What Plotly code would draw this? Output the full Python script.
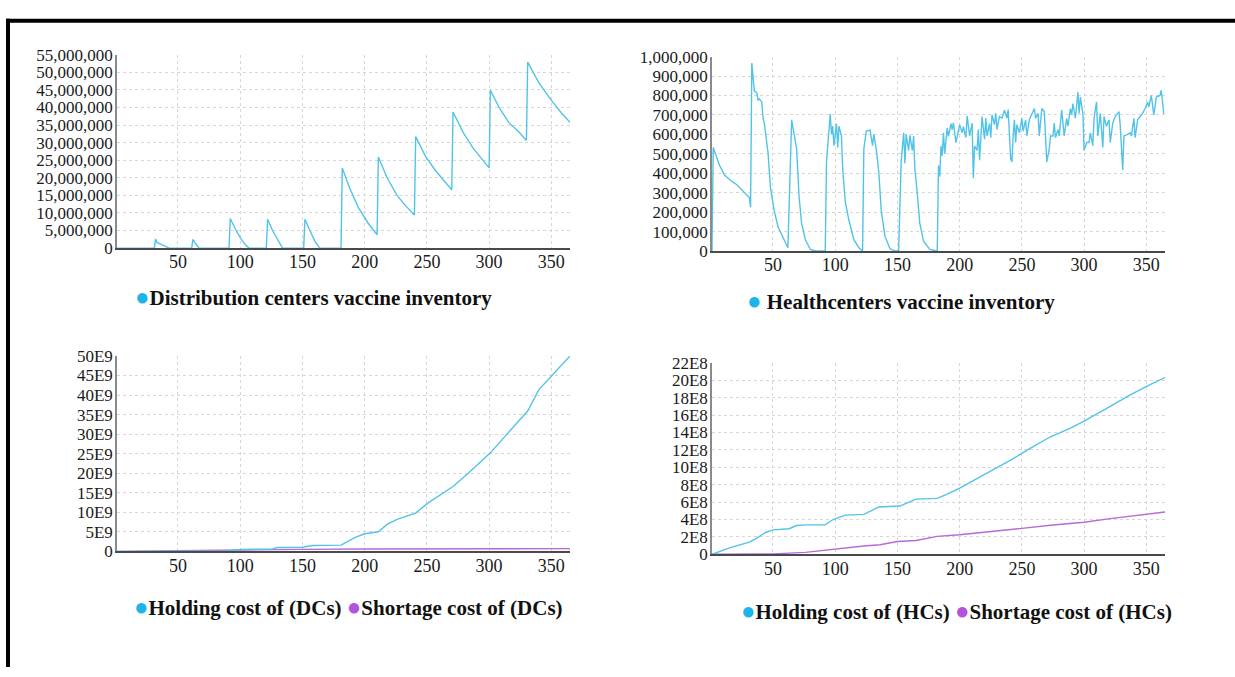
import plotly.graph_objects as go

W, H = 1235, 677

# ---------------- data ----------------
days_ticks = [50, 100, 150, 200, 250, 300, 350]

# Distribution centers vaccine inventory (units)
dc_day = [1, 31, 32, 33, 36, 40, 43, 61, 62, 64, 66, 67, 91, 92, 96, 100, 104, 107,
          121, 122, 126, 130, 134, 151, 152, 156, 160, 164, 181, 182, 188, 195, 203,
          210, 211, 218, 226, 233, 240, 241, 249, 257, 264, 270, 271, 279, 287, 294,
          300, 301, 308, 316, 324, 330, 331, 340, 350, 358, 365]
dc_inv_m = [0, 0, 2.6, 1.6, 1.1, 0.4, 0, 0, 2.5, 1.3, 0.4, 0, 0, 8.4, 5.5, 3.0, 1.0, 0,
            0, 8.2, 5.0, 2.3, 0, 0, 8.2, 5.0, 2.0, 0, 0, 22.8, 17.0, 11.5, 7.0,
            3.8, 25.9, 20.0, 15.0, 12.0, 9.4, 31.7, 26.0, 22.0, 19.0, 16.6, 38.7, 33.0, 28.5, 25.5,
            22.8, 44.9, 40.0, 35.6, 33.0, 30.6, 52.9, 47.0, 42.0, 38.5, 35.8]

# Healthcenters vaccine inventory (thousand units)
hc_day = [1, 2, 7, 11, 17, 21, 26, 31, 32, 33, 35, 37, 38, 39, 41, 42, 43, 46, 48, 51, 54, 58, 62,
          65, 66, 69, 71, 73, 76, 80, 84, 92, 93, 95, 96, 97, 98, 99, 101, 102, 103, 105, 106, 108,
          111, 115, 119, 122, 123, 125, 128, 130, 131, 133, 135, 137, 140, 144, 148, 151, 153, 155,
          156, 157, 159, 160, 162, 163, 164, 166, 168, 171, 176, 182,
          183, 184, 185, 186, 187, 188, 190, 191, 193, 194, 195, 197, 200, 202, 203, 205, 206, 208,
          210, 211, 212, 214, 215, 216, 217, 218, 220, 221, 222, 224, 225, 226, 228, 229, 230, 232,
          234, 236, 238, 239, 241, 242, 243, 244, 245, 246, 248, 250, 251, 253, 254, 256, 260, 261,
          263, 264, 266, 268, 270, 272, 273, 275, 276, 277, 279, 280, 282, 284, 286, 287, 289, 290,
          291, 293, 295, 296, 297, 299, 300, 302, 304, 305, 307, 308, 310, 311, 313, 315, 316, 318,
          320, 321, 323, 325, 328, 329, 331, 332, 335, 337, 338, 340, 341, 343, 345, 347, 349, 351,
          352, 354, 356, 358, 361, 362, 364]
hc_inv_k = [0, 533, 441, 391, 358, 341, 308, 275, 225, 967, 823, 815, 775, 783, 767, 683, 658, 508,
            325, 208, 125, 67, 17,
            675, 642, 525, 275, 142, 58, 8, 0, 0, 458, 658, 705, 600, 642, 542, 655, 533, 642, 592,
            425, 258,
            158, 58, 17, 0, 525, 617, 622, 542, 600, 525, 408, 208, 75, 12, 0, 0, 458, 608,
            450, 600, 517, 595, 517, 592, 425, 292, 142, 50, 8, 0,
            440, 383, 540, 490, 608, 500, 633, 590, 655, 625, 660, 558, 650, 608, 640, 583, 695, 592,
            658, 375, 540, 517, 625, 467, 608, 692, 575, 683, 592, 655, 583, 700, 650, 708, 625, 692,
            683, 725, 683, 728, 475, 458, 592, 675, 558, 650, 608, 683, 617, 675, 592, 675, 733, 683,
            708, 592, 733, 717, 458, 525, 592, 592, 658, 583, 625, 592, 725, 592, 683, 642, 733, 700,
            758, 683, 817, 708, 792, 708, 517, 558, 558, 608, 542, 683, 767, 592, 708, 533, 692, 642,
            675, 558, 658, 692, 717, 650, 417, 592, 600, 608, 592, 683, 583, 675, 692, 708, 733, 767,
            742, 800, 700, 792, 800, 827, 706]

# Costs of DCs (in units of 1E9)
dc_hold_day = [1, 90, 100, 126, 130, 150, 158, 181, 192, 200, 211, 218, 226, 241, 251, 261,
               271, 283, 301, 318, 331, 340, 353, 365]
dc_hold_e9 = [0, 0.1, 0.5, 0.6, 1.0, 1.05, 1.5, 1.6, 3.5, 4.5, 5.0, 6.9, 8.2, 9.8, 12.4, 14.5,
              16.6, 19.9, 25.2, 31.3, 35.9, 41.4, 46.0, 50.0]
dc_short_day = [1, 30, 60, 100, 150, 200, 365]
dc_short_e9 = [0, 0.05, 0.15, 0.35, 0.5, 0.6, 0.7]

# Costs of HCs (in units of 1E8)
hc_hold_day = [1, 15, 31, 36, 44, 50, 63, 69, 76, 92, 98, 108, 123, 135, 152, 165, 182, 190,
               200, 210, 226, 242, 257, 273, 289, 300, 321, 337, 353, 365]
hc_hold_e8 = [0, 0.73, 1.4, 1.76, 2.5, 2.8, 2.93, 3.3, 3.37, 3.37, 3.96, 4.5, 4.58, 5.43, 5.54,
              6.34, 6.42, 6.9, 7.6, 8.4, 9.6, 10.9, 12.2, 13.5, 14.5, 15.3, 17.0, 18.3, 19.5, 20.3]
hc_short_day = [1, 40, 50, 76, 92, 108, 123, 136, 150, 165, 182, 200, 225, 250, 273, 300, 321,
                337, 365]
hc_short_e8 = [0, 0, 0.04, 0.22, 0.48, 0.66, 0.95, 1.1, 1.47, 1.58, 2.05, 2.24, 2.57, 2.97,
               3.34, 3.67, 4.1, 4.4, 4.85]

dc_cost_ticks = [0, 5, 10, 15, 20, 25, 30, 35, 40, 45, 50]
hc_cost_ticks = [0, 2, 4, 6, 8, 10, 12, 14, 16, 18, 20, 22]

legend_texts = ["Distribution centers vaccine inventory", "Healthcenters vaccine inventory",
                "Holding cost of (DCs)", "Shortage cost of (DCs)",
                "Holding cost of (HCs)", "Shortage cost of (HCs)"]

# ---------------- styles ----------------
CYAN = "#52c3e8"
PURPLE = "#b56ad8"
DOT_CYAN = "#1db4ea"
DOT_PURPLE = "#b353d9"
FONT = "Liberation Serif"

fig = go.Figure()

fig.add_trace(go.Scatter(x=dc_day, y=[v * 1e6 for v in dc_inv_m], mode="lines",
                         line=dict(color=CYAN, width=1.4), xaxis="x", yaxis="y",
                         name=legend_texts[0]))
fig.add_trace(go.Scatter(x=hc_day, y=[v * 1e3 for v in hc_inv_k], mode="lines",
                         line=dict(color=CYAN, width=1.4), xaxis="x2", yaxis="y2",
                         name=legend_texts[1]))
fig.add_trace(go.Scatter(x=dc_short_day, y=[v * 1e9 for v in dc_short_e9], mode="lines",
                         line=dict(color=PURPLE, width=1.4), xaxis="x3", yaxis="y3",
                         name=legend_texts[3]))
fig.add_trace(go.Scatter(x=dc_hold_day, y=[v * 1e9 for v in dc_hold_e9], mode="lines",
                         line=dict(color=CYAN, width=1.4), xaxis="x3", yaxis="y3",
                         name=legend_texts[2]))
fig.add_trace(go.Scatter(x=hc_short_day, y=[v * 1e8 for v in hc_short_e8], mode="lines",
                         line=dict(color=PURPLE, width=1.4), xaxis="x4", yaxis="y4",
                         name=legend_texts[5]))
fig.add_trace(go.Scatter(x=hc_hold_day, y=[v * 1e8 for v in hc_hold_e8], mode="lines",
                         line=dict(color=CYAN, width=1.4), xaxis="x4", yaxis="y4",
                         name=legend_texts[4]))


def px_x(a, b):
    return [a / W, b / W]


def px_y(top, bottom):
    return [1 - bottom / H, 1 - top / H]


xtickfont = dict(family=FONT, size=18, color="#1a1a1a")
ytickfont = dict(family=FONT, size=17, color="#1a1a1a")
common_x = dict(range=[1, 365], tickvals=days_ticks, showgrid=True, gridcolor="#d6d6d6",
                griddash="dot", gridwidth=1, showline=True, linecolor="#4a4a4a", linewidth=1.5,
                zeroline=False, ticks="", tickfont=xtickfont, fixedrange=True,
                ticklabelstandoff=-3)
common_y = dict(showgrid=True, gridcolor="#d6d6d6", griddash="dot", gridwidth=1,
                showline=True, linecolor="#8a8a8a", linewidth=1.5, zeroline=False, ticks="",
                tickfont=ytickfont, fixedrange=True, ticklabelstandoff=-1)

fig.update_layout(
    width=W, height=H, margin=dict(l=0, r=0, t=0, b=0),
    paper_bgcolor="white", plot_bgcolor="white", showlegend=False,
    xaxis=dict(domain=px_x(117, 570), anchor="y", **common_x),
    yaxis=dict(domain=px_y(47, 246), anchor="x", range=[0, 55e6], dtick=5e6,
               tickformat=",d", **common_y),
    xaxis2=dict(domain=px_x(712, 1165), anchor="y2", **common_x),
    yaxis2=dict(domain=px_y(49, 249), anchor="x2", range=[0, 1e6], dtick=1e5,
                tickformat=",d", **common_y),
    xaxis3=dict(domain=px_x(117, 570), anchor="y3", **common_x),
    yaxis3=dict(domain=px_y(357, 558), anchor="x3", range=[0, 50e9],
                tickvals=[v * 1e9 for v in dc_cost_ticks],
                ticktext=[("%dE9" % v) if v else "0" for v in dc_cost_ticks], **common_y),
    xaxis4=dict(domain=px_x(712, 1165), anchor="y4", **common_x),
    yaxis4=dict(domain=px_y(364, 561), anchor="x4", range=[0, 22e8],
                tickvals=[v * 1e8 for v in hc_cost_ticks],
                ticktext=[("%dE8" % v) if v else "0" for v in hc_cost_ticks], **common_y),
)


def dot(color):
    return "<span style='color:%s;font-size:24px'>●</span>" % color


legend_font = dict(family=FONT, size=21, color="#111111")
ann = [
    (133, 296, dot(DOT_CYAN) + "<b>%s</b>" % legend_texts[0]),
    (745, 300, dot(DOT_CYAN) + " <b>%s</b>" % legend_texts[1]),
    (132, 615, dot(DOT_CYAN) + "<b>%s</b> " % legend_texts[2] + dot(DOT_PURPLE) +
     "<b>%s</b>" % legend_texts[3]),
    (739, 619, dot(DOT_CYAN) + "<b>%s</b> " % legend_texts[4] + dot(DOT_PURPLE) +
     "<b>%s</b>" % legend_texts[5]),
]
for x, y, t in ann:
    fig.add_annotation(x=x / W, y=1 - y / H, xref="paper", yref="paper", text=t,
                       showarrow=False, xanchor="left", yanchor="middle", font=legend_font)

# frame lines (top and left)
fig.add_shape(type="line", xref="paper", yref="paper", x0=6 / W, x1=1, y0=1 - 12 / H,
              y1=1 - 12 / H, line=dict(color="black", width=4))
fig.add_shape(type="line", xref="paper", yref="paper", x0=8 / W, x1=8 / W, y0=0,
              y1=1 - 10 / H, line=dict(color="black", width=4))

fig.write_html("out.html")
